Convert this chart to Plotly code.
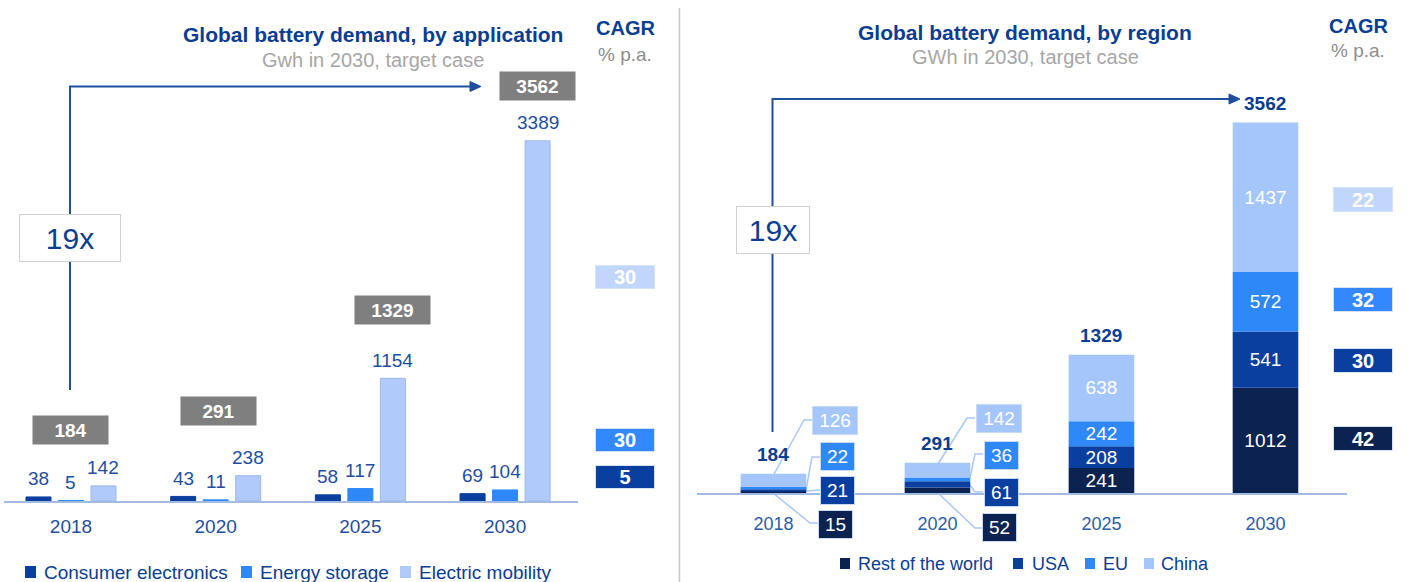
import plotly.graph_objects as go

W, H = 1407, 582
FONT = "Liberation Sans, Arial, sans-serif"
DARK = "#0B3D91"
LABEL = "#1F4E9E"
GREY_TXT = "#A6A6A6"

# ---------------- data ----------------
years = ["2018", "2020", "2025", "2030"]

app_names = ["Consumer electronics", "Energy storage", "Electric mobility"]
consumer_electronics = [38, 43, 58, 69]
energy_storage = [5, 11, 117, 104]
electric_mobility = [142, 238, 1154, 3389]
app_totals = [184, 291, 1329, 3562]
app_cagr = [5, 30, 30]

region_names = ["Rest of the world", "USA", "EU", "China"]
rest_of_world = [15, 52, 241, 1012]
usa = [21, 61, 208, 541]
eu = [22, 36, 242, 572]
china = [126, 142, 638, 1437]
region_totals = [184, 291, 1329, 3562]
region_cagr = [42, 30, 32, 22]

growth_multiple = "19x"

# ---------------- styles ----------------
app_colors = ["#0A3F9F", "#2F88F8", "#AFCAFB"]
app_edge = ["#0A3F9F", "#2F88F8", "#9DB8E8"]
app_cagr_colors = ["#0A3F9F", "#3388FF", "#C0D7FB"]
region_colors = ["#0C2352", "#0A3F9F", "#2F88F8", "#A4C6FA"]
region_cagr_colors = ["#0C2352", "#0A3F9F", "#3388FF", "#C0D7FB"]


def px(x):
    return x / W


def py(y):
    return 1 - y / H


fig = go.Figure()
cats = list(range(len(years)))

# ---------------- left panel: grouped bars ----------------
app_series = [consumer_electronics, energy_storage, electric_mobility]
for name, vals, col, edge in zip(app_names, app_series, app_colors, app_edge):
    fig.add_trace(go.Bar(
        x=cats, y=vals, name=name, xaxis="x", yaxis="y", offsetgroup=name,
        marker=dict(color=col, line=dict(color=edge, width=1)),
        showlegend=False,
        hovertemplate=name + " %{customdata}: %{y}<extra></extra>",
        customdata=years,
    ))

# ---------------- right panel: stacked bars (via base) ----------------
region_series = [rest_of_world, usa, eu, china]
base = [0] * len(years)
for name, vals, col in zip(region_names, region_series, region_colors):
    txt = [str(v) if i >= 2 else "" for i, v in enumerate(vals)]
    fig.add_trace(go.Bar(
        x=cats, y=vals, base=list(base), name=name, xaxis="x2", yaxis="y2",
        offsetgroup="regions", width=0.4,
        marker=dict(color=col, line=dict(color=col, width=0)),
        text=txt, textposition="inside", insidetextanchor="middle",
        textangle=0, constraintext="none",
        textfont=dict(color="white", size=19, family=FONT),
        showlegend=False,
        hovertemplate=name + " %{customdata}: %{y}<extra></extra>",
        customdata=years,
    ))
    base = [b + v for b, v in zip(base, vals)]

ann = []
shapes = []


def note(**kw):
    kw.setdefault("showarrow", False)
    kw.setdefault("xanchor", "center")
    kw.setdefault("yanchor", "middle")
    kw.setdefault("xref", "paper")
    kw.setdefault("yref", "paper")
    ann.append(kw)


# ---------------- left panel annotations ----------------
note(x=px(373), y=py(34), text="<b>Global battery demand, by application</b>",
     font=dict(size=21, color=DARK, family=FONT))
note(x=px(373), y=py(60), text="Gwh in 2030, target case",
     font=dict(size=20, color=GREY_TXT, family=FONT))
note(x=px(625), y=py(28), text="<b>CAGR</b>", font=dict(size=20, color=DARK, family=FONT))
note(x=px(625), y=py(54), text="% p.a.", font=dict(size=19, color="#8C8C8C", family=FONT))

# value labels above grouped bars
for j, vals in enumerate(app_series):
    for i, v in enumerate(vals):
        note(x=i, y=v, xref="x", yref="y", xshift=(j - 1) * 32.5, yshift=18,
             text=str(v), font=dict(size=19, color=LABEL, family=FONT))

# grey total boxes
total_box_y = [429.5, 411, 309.5, 86]
total_box_dx = [0, 2.5, 32, 32]
for i, t in enumerate(app_totals):
    note(x=i, y=py(total_box_y[i]), xref="x", xshift=total_box_dx[i],
         text="<b>%d</b>" % t, width=75, height=28,
         bgcolor="#7F7F7F", borderpad=0, align="center", valign="middle",
         font=dict(size=19, color="white", family=FONT))

# growth arrow (left)
shapes.append(dict(type="path", xref="paper", yref="paper",
                   path="M %f,%f L %f,%f L %f,%f" % (px(70), py(390), px(70), py(86.5), px(471), py(86.5)),
                   line=dict(color=LABEL, width=2)))
shapes.append(dict(type="path", xref="paper", yref="paper",
                   path="M %f,%f L %f,%f L %f,%f Z" % (px(481), py(86.5), px(470), py(81.5), px(470), py(91.5)),
                   fillcolor=LABEL, line=dict(color=LABEL, width=1)))
note(x=px(69.5), y=py(238), text=growth_multiple, width=100, height=46, bgcolor="white",
     bordercolor="#CFCFCF", borderwidth=1, borderpad=0,
     font=dict(size=30, color=DARK, family=FONT))

# CAGR boxes (left)
app_cagr_y = [476.5, 439.5, 277]
for k, c in enumerate(app_cagr):
    note(x=px(624.5), y=py(app_cagr_y[k]), text="<b>%d</b>" % c, width=58, height=22,
         bgcolor=app_cagr_colors[k], bordercolor="#D5E2F5", borderwidth=1, borderpad=0,
         font=dict(size=20, color="white", family=FONT))

# legend (left)
leg_left = [(25, 42), (241, 258), (400, 417)]
for (sx, tx), name, col in zip(leg_left, app_names, app_colors):
    shapes.append(dict(type="rect", xref="paper", yref="paper",
                       x0=px(sx), x1=px(sx + 11), y0=py(578), y1=py(566),
                       fillcolor=col, line=dict(width=0)))
    note(x=px(tx), y=py(572), xanchor="left", text=name,
         font=dict(size=19, color=DARK, family=FONT))

# separator
shapes.append(dict(type="line", xref="paper", yref="paper", x0=px(679.5), x1=px(679.5),
                   y0=py(8), y1=py(582), line=dict(color="#C8C8C8", width=1.5)))

# ---------------- right panel annotations ----------------
note(x=px(1025), y=py(32), text="<b>Global battery demand, by region</b>",
     font=dict(size=21, color=DARK, family=FONT))
note(x=px(1025), y=py(57), text="GWh in 2030, target case",
     font=dict(size=20, color=GREY_TXT, family=FONT))
note(x=px(1358), y=py(26), text="<b>CAGR</b>", font=dict(size=20, color=DARK, family=FONT))
note(x=px(1358), y=py(50), text="% p.a.", font=dict(size=19, color="#8C8C8C", family=FONT))

# totals above stacks
for i, t in enumerate(region_totals):
    note(x=i, y=t, xref="x2", yref="y2", yshift=19, text="<b>%d</b>" % t,
         font=dict(size=19, color=DARK, family=FONT))

# growth arrow (right)
shapes.append(dict(type="path", xref="paper", yref="paper",
                   path="M %f,%f L %f,%f L %f,%f" % (px(772.5), py(432), px(772.5), py(99), px(1230), py(99)),
                   line=dict(color=LABEL, width=2)))
shapes.append(dict(type="path", xref="paper", yref="paper",
                   path="M %f,%f L %f,%f L %f,%f Z" % (px(1240), py(99), px(1229), py(94), px(1229), py(104)),
                   fillcolor=LABEL, line=dict(color=LABEL, width=1)))
note(x=px(773), y=py(230), text=growth_multiple, width=72, height=46, bgcolor="white",
     bordercolor="#CFCFCF", borderwidth=1, borderpad=0,
     font=dict(size=30, color=DARK, family=FONT))

# callouts for small stacks (2018, 2020)
callout_y = {0: [524, 490, 456.5, 420], 1: [527, 492, 455.5, 418.5]}
callout_dx = [12, 14, 14, 6]
leader_paths = {
    0: [[(773, 493), (810, 523), (818, 523)],
        [(806, 491), (820, 490)],
        [(806, 490), (812, 457), (820, 457)],
        [(773, 476), (804, 420), (812, 420)]],
    1: [[(938, 493), (975, 528), (983, 528)],
        [(970, 485), (975, 492), (983, 492)],
        [(970, 478), (975, 454), (983, 454)],
        [(938, 464), (967, 418), (975, 418)]],
}
for i in (0, 1):
    for k, vals in enumerate(region_series):
        pts = leader_paths[i][k]
        path = "M " + " L ".join("%f,%f" % (px(a), py(b)) for a, b in pts)
        shapes.append(dict(type="path", xref="paper", yref="paper", path=path,
                           line=dict(color="#A9C7F5", width=1.5), layer="below"))
        s = str(vals[i])
        note(x=i + 0.2, y=py(callout_y[i][k]), xref="x2", xanchor="left",
             xshift=callout_dx[k], text=s, width=11 + 11 * len(s), height=27,
             bgcolor=region_colors[k], bordercolor="#C9D9F2", borderwidth=1, borderpad=0,
             font=dict(size=19, color="white", family=FONT))

# CAGR boxes (right)
region_cagr_y = [438.5, 360.5, 300, 199.5]
for k, c in enumerate(region_cagr):
    note(x=px(1362.5), y=py(region_cagr_y[k]), text="<b>%d</b>" % c, width=58, height=23,
         bgcolor=region_cagr_colors[k], bordercolor="#D5E2F5", borderwidth=1, borderpad=0,
         font=dict(size=20, color="white", family=FONT))

# legend (right)
leg_right = [(840, 856), (1013, 1030), (1085, 1101), (1144, 1159)]
for (sx, tx), name, col in zip(leg_right, region_names, region_colors):
    shapes.append(dict(type="rect", xref="paper", yref="paper",
                       x0=px(sx), x1=px(sx + 10), y0=py(569), y1=py(558),
                       fillcolor=col, line=dict(width=0)))
    note(x=px(tx), y=py(563.5), xanchor="left", text=name,
         font=dict(size=18, color=DARK, family=FONT))

axis_common = dict(showgrid=False, zeroline=False, showline=True, linecolor="#A3BBE3",
                   linewidth=2, tickmode="array", tickvals=cats, ticktext=years,
                   ticks="", fixedrange=True)

fig.update_layout(
    width=W, height=H, autosize=False,
    margin=dict(l=0, r=0, t=0, b=0, pad=0),
    paper_bgcolor="white", plot_bgcolor="rgba(0,0,0,0)",
    barmode="group", bargap=0.326, bargroupgap=0.23,
    showlegend=False,
    font=dict(family=FONT, color=DARK),
    xaxis=dict(domain=[px(4), px(578)], range=[-0.463, 3.504], anchor="y",
               tickfont=dict(size=19, color=LABEL, family=FONT), ticklabelstandoff=7,
               **axis_common),
    yaxis=dict(domain=[(H - 501) / H, 1], range=[0, 501 / 0.1063], visible=False,
               anchor="x", fixedrange=True),
    xaxis2=dict(domain=[px(697), px(1347)], range=[-0.466, 3.497], anchor="y2",
                tickfont=dict(size=18, color="#2B5CA8", family=FONT), ticklabelstandoff=13,
                **axis_common),
    yaxis2=dict(domain=[(H - 493) / H, 1], range=[0, 493 / 0.104], visible=False,
                anchor="x2", fixedrange=True),
    annotations=ann,
    shapes=shapes,
)

fig.write_html("out.html", config={"displayModeBar": False},
               post_script="document.body.style.margin='0px';document.body.style.overflow='hidden';")
